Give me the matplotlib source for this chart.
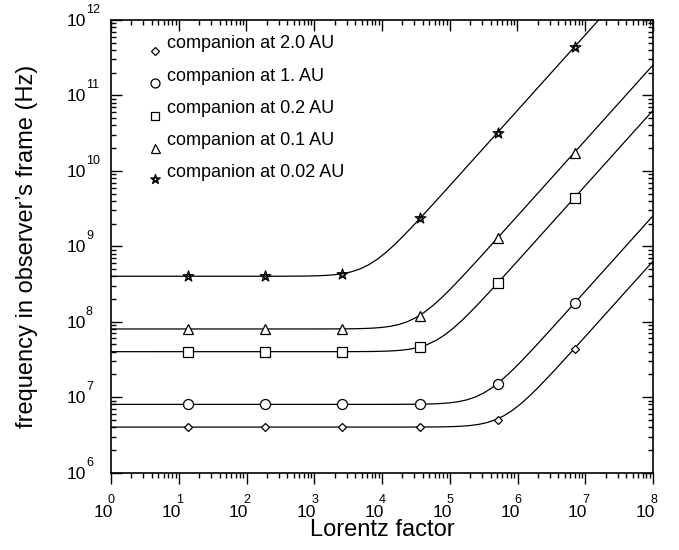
import matplotlib
matplotlib.use("Agg")
import matplotlib.pyplot as plt
import matplotlib.transforms as mtransforms
from matplotlib.ticker import LogLocator
from matplotlib.path import Path
import numpy as np

plt.rcParams['font.family'] = ['Liberation Sans', 'DejaVu Sans']

# curves (denser around the bend)
lorentz_2au = [1, 1.995e4, 3.548e4, 6.310e4, 8.414e4, 1.122e5, 1.496e5, 1.995e5, 2.661e5, 3.548e5,
               4.732e5, 6.310e5, 8.414e5, 1.122e6, 1.496e6, 1.995e6, 2.661e6, 3.548e6, 4.732e6,
               6.310e6, 1.122e7, 1.995e7, 1e8]
freq_2au = [4.0e6, 4.002e6, 4.006e6, 4.02e6, 4.035e6, 4.063e6, 4.111e6, 4.195e6, 4.341e6, 4.589e6,
            4.998e6, 5.657e6, 6.667e6, 8.160e6, 1.029e7, 1.327e7, 1.734e7, 2.284e7, 3.026e7,
            4.02e7, 7.124e7, 1.266e8, 6.34e8]

lorentz_1au = [1, 1e4, 1.778e4, 3.162e4, 4.217e4, 5.623e4, 7.499e4, 1e5, 1.334e5, 1.778e5,
               2.371e5, 3.162e5, 4.217e5, 5.623e5, 7.499e5, 1e6, 1.334e6, 1.778e6, 2.371e6,
               3.162e6, 5.623e6, 1e7, 1e8]
freq_1au = [8.0e6, 8.004e6, 8.013e6, 8.04e6, 8.07e6, 8.126e6, 8.222e6, 8.39e6, 8.682e6, 9.178e6,
            9.997e6, 1.131e7, 1.333e7, 1.632e7, 2.059e7, 2.653e7, 3.467e7, 4.569e7, 6.052e7,
            8.04e7, 1.425e8, 2.531e8, 2.53e9]

lorentz_02au = [1, 1995, 3548, 6310, 8414, 1.122e4, 1.496e4, 1.995e4, 2.661e4, 3.548e4,
                4.732e4, 6.310e4, 8.414e4, 1.122e5, 1.496e5, 1.995e5, 2.661e5, 3.548e5, 4.732e5,
                6.310e5, 1.122e6, 1.995e6, 1e8]
freq_02au = [4.0e7, 4.002e7, 4.006e7, 4.02e7, 4.035e7, 4.063e7, 4.111e7, 4.195e7, 4.341e7, 4.589e7,
             4.998e7, 5.657e7, 6.667e7, 8.160e7, 1.029e8, 1.327e8, 1.734e8, 2.284e8, 3.026e8,
             4.02e8, 7.124e8, 1.266e9, 6.34e10]

lorentz_01au = [1, 1000, 1778, 3162, 4217, 5623, 7499, 1e4, 1.334e4, 1.778e4,
                2.371e4, 3.162e4, 4.217e4, 5.623e4, 7.499e4, 1e5, 1.334e5, 1.778e5, 2.371e5,
                3.162e5, 5.623e5, 1e6, 1e8]
freq_01au = [8.0e7, 8.004e7, 8.013e7, 8.04e7, 8.07e7, 8.126e7, 8.222e7, 8.39e7, 8.682e7, 9.178e7,
             9.997e7, 1.131e8, 1.333e8, 1.632e8, 2.059e8, 2.653e8, 3.467e8, 4.569e8, 6.052e8,
             8.04e8, 1.425e9, 2.531e9, 2.53e11]

lorentz_002au = [1, 200, 355, 631, 841, 1122, 1496, 1995, 2661, 3548,
                 4732, 6310, 8414, 1.122e4, 1.496e4, 1.995e4, 2.661e4, 3.548e4, 4.732e4,
                 6.310e4, 1.122e5, 1.995e5, 1e8]
freq_002au = [4.0e8, 4.002e8, 4.006e8, 4.02e8, 4.035e8, 4.063e8, 4.111e8, 4.195e8, 4.341e8, 4.589e8,
              4.998e8, 5.657e8, 6.667e8, 8.160e8, 1.029e9, 1.327e9, 1.734e9, 2.284e9, 3.026e9,
              4.02e9, 7.124e9, 1.266e10, 6.34e12]

# symbols
marker_lorentz = [13.6, 188, 2600, 3.64e4, 5.1e5, 7.0e6]
points_2au = [4.0e6, 4.0e6, 4.0e6, 4.0e6, 5.0e6, 4.35e7]
points_1au = [8.0e6, 8.0e6, 8.0e6, 8.0e6, 1.5e7, 1.78e8]
points_02au = [4.0e7, 4.0e7, 4.0e7, 4.6e7, 3.25e8, 4.4e9]
points_01au = [8.0e7, 8.0e7, 8.0e7, 1.2e8, 1.3e9, 1.75e10]
points_002au = [4.0e8, 4.0e8, 4.3e8, 2.35e9, 3.2e10, 4.4e11]

labels = ["companion at 2.0 AU", "companion at 1. AU", "companion at 0.2 AU",
          "companion at 0.1 AU", "companion at 0.02 AU"]

# pentagram symbol (xmgrace style star)
ang = np.deg2rad(90 + 144 * np.arange(5))
star_verts = np.column_stack([np.cos(ang), np.sin(ang)])
star_verts = np.vstack([star_verts, star_verts[:1]])
star = Path(star_verts, [Path.MOVETO] + [Path.LINETO] * 4 + [Path.CLOSEPOLY])

styles = [("D", 4.4, "white"), ("o", 7.2, "white"), ("s", 7.0, "white"),
          ("^", 7.2, "white"), (star, 8.0, "none")]

curves = [(lorentz_2au, freq_2au), (lorentz_1au, freq_1au), (lorentz_02au, freq_02au),
          (lorentz_01au, freq_01au), (lorentz_002au, freq_002au)]
points = [points_2au, points_1au, points_02au, points_01au, points_002au]

fig = plt.figure(figsize=(6.79, 5.50), dpi=100)
ax = fig.add_axes([111 / 679, 77.5 / 550, 542 / 679, 452.5 / 550])

for (lx, fy), p, (m, ms, fc) in zip(curves, points, styles):
    ax.plot(lx, fy, color="black", lw=0.9, zorder=2)
    ax.plot(marker_lorentz, p, ls="none", marker=m, ms=ms, mfc=fc, mec="black",
            mew=0.9, zorder=3, clip_on=False)

ax.set_xscale("log")
ax.set_yscale("log")
ax.set_xlim(1, 1e8)
ax.set_ylim(1e6, 1e12)

for s in ax.spines.values():
    s.set_linewidth(1.2)

ax.tick_params(axis="x", which="both", direction="out", top=False, labelbottom=False, width=1.0)
ax.tick_params(axis="y", which="both", direction="in", right=True, labelleft=False, width=1.0)
ax.tick_params(which="major", length=8)
ax.tick_params(which="minor", length=3.5)
ax.xaxis.set_major_locator(LogLocator(base=10, numticks=20))
ax.xaxis.set_minor_locator(LogLocator(base=10, subs=np.arange(2, 10), numticks=20))
ax.yaxis.set_major_locator(LogLocator(base=10, numticks=20))
ax.yaxis.set_minor_locator(LogLocator(base=10, subs=np.arange(2, 10), numticks=20))

# top ticks point inward, bottom ones outward
top = ax.twiny()
top.set_xscale("log")
top.set_xlim(ax.get_xlim())
top.xaxis.set_major_locator(LogLocator(base=10, numticks=20))
top.xaxis.set_minor_locator(LogLocator(base=10, subs=np.arange(2, 10), numticks=20))
top.tick_params(axis="x", which="both", direction="in", labeltop=False, width=1.0)
top.tick_params(which="major", length=8)
top.tick_params(which="minor", length=3.5)
for s in top.spines.values():
    s.set_visible(False)

# tick labels in the 10 + raised exponent style
tx = mtransforms.blended_transform_factory(ax.transData, ax.transAxes)
for k in range(0, 9):
    ax.text(10.0 ** k, 0, "10", fontsize=12.5, ha="right", va="baseline",
            transform=mtransforms.offset_copy(tx, fig, x=2, y=-44.5, units="dots"))
    ax.text(10.0 ** k, 0, str(k), fontsize=9, ha="center", va="baseline",
            transform=mtransforms.offset_copy(tx, fig, x=0.5, y=-30.5, units="dots"))

ty = mtransforms.blended_transform_factory(ax.transAxes, ax.transData)
for k in range(6, 13):
    ax.text(0, 10.0 ** k, "10", fontsize=12.5, ha="left", va="baseline",
            transform=mtransforms.offset_copy(ty, fig, x=-44, y=-6, units="dots"))
    ax.text(0, 10.0 ** k, str(k), fontsize=9, ha="left", va="baseline",
            transform=mtransforms.offset_copy(ty, fig, x=-25, y=7, units="dots"))

# legend, drawn by hand
baselines = [48.3, 80.7, 113.0, 145.0, 176.7]
for lab, (m, ms, fc), b in zip(labels, styles, baselines):
    yb = (472.5 - b) / 452.5
    ym = (472.5 - b - 2.5) / 452.5
    ax.plot([0.0812], [ym], transform=ax.transAxes, ls="none", marker=m, ms=ms * 0.9,
            mfc=fc, mec="black", mew=0.9, clip_on=False)
    ax.text(0.1033, yb, lab, transform=ax.transAxes, fontsize=13, va="baseline", ha="left")

ax.set_xlabel("Lorentz factor", fontsize=17)
ax.xaxis.set_label_coords(0.5, -0.102)
ax.set_ylabel("frequency in observer\u2019s frame (Hz)", fontsize=17)
ax.yaxis.set_label_coords(-0.135, 0.5)

fig.savefig("out.png", dpi=100)
